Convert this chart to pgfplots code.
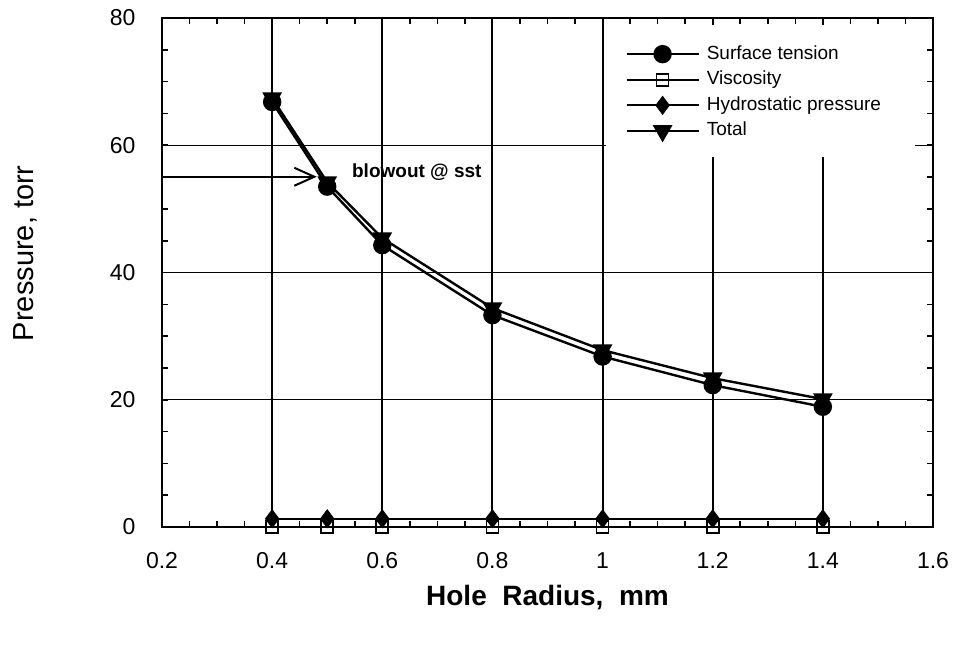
\documentclass[border=0pt]{standalone}
\usepackage{fontspec}
\setmainfont{Liberation Sans}
\usepackage{pgfplots}
\pgfplotsset{compat=1.18}
\usetikzlibrary{arrows.meta,calc}

\begin{document}
\begin{tikzpicture}
\begin{axis}[
    name=main,
    scale only axis,
    width=385.5pt, height=254.5pt,
    xmin=0.2, xmax=1.6,
    ymin=0, ymax=80,
    xtick={0.2,0.4,...,1.6},
    ytick={0,20,40,60,80},
    minor x tick num=3,
    minor y tick num=3,
    tick align=inside,
    tick pos=both,
    major tick length=3pt,
    minor tick length=3pt,
    every tick/.style={black, line width=0.8pt},
    axis line style={black, line width=1pt},
    grid=major,
    x grid style={black, line width=1pt},
    y grid style={black, line width=0.7pt},
    /pgf/number format/assume math mode=true,
    tick label style={font=\fontsize{11.5}{13}\selectfont},
    xticklabel style={anchor=base, yshift=-20.5pt},
    yticklabel style={anchor=east, xshift=-9.7pt},
    xlabel={Hole\ \ Radius,\ \ mm},
    ylabel={Pressure, torr},
    every axis x label/.style={at={(axis description cs:0.5,0)}, anchor=base,
        yshift=-39pt, font=\fontsize{14}{16}\selectfont\bfseries},
    every axis y label/.style={at={(axis description cs:0,0.538)}, rotate=90,
        anchor=center, yshift=68.5pt, font=\fontsize{14.5}{16}\selectfont},
    legend style={at={(axis cs:1.0407,75.8)}, anchor=north west,
        fill=none, draw=none, inner sep=0pt,
        font=\fontsize{9.5}{11}\selectfont,
        nodes={inner sep=0pt, text height=7pt, text depth=2pt},
        row sep=3.8pt, column sep=3.5pt},
    legend cell align=left,
    legend image code/.code={
        \draw[mark repeat=2, mark phase=2] plot coordinates {(0pt,0pt) (18pt,0pt) (36pt,0pt)};
    },
]
% white panel behind the legend
\fill[white] (axis cs:1.006,78.9) rectangle (axis cs:1.5673,58.15);

% Surface tension
\addplot[black, line width=1.2pt, mark=*, mark size=4pt, mark options={fill=black}] coordinates {
    (0.4,66.8) (0.5,53.5) (0.6,44.3) (0.8,33.3) (1.0,26.8) (1.2,22.3) (1.4,18.9)
};
\addlegendentry{Surface tension}

% Viscosity
\addplot[black, line width=1pt, mark=square, mark size=3pt, mark options={fill=white, line width=0.8pt}] coordinates {
    (0.4,0) (0.5,0) (0.6,0) (0.8,0) (1.0,0) (1.2,0) (1.4,0)
};
\addlegendentry{Viscosity}

% Hydrostatic pressure
\addplot[black, line width=1pt, mark=diamond*, mark size=4pt, mark options={fill=black}] coordinates {
    (0.4,1.3) (0.5,1.3) (0.6,1.3) (0.8,1.3) (1.0,1.3) (1.2,1.3) (1.4,1.3)
};
\addlegendentry{Hydrostatic pressure}

% Total
\addplot[black, line width=1.2pt, mark=triangle*, mark size=4.5pt, mark options={fill=black, rotate=180}] coordinates {
    (0.4,67.4) (0.5,54.2) (0.6,45.4) (0.8,34.4) (1.0,27.8) (1.2,23.4) (1.4,20.1)
};
\addlegendentry{Total}

% blowout annotation
\draw[line width=1pt, -{Straight Barb[length=10pt, width=9pt]}] (axis cs:0.2,55.05) -- (axis cs:0.481,55.05);
\node[anchor=west, inner sep=0pt, font=\fontsize{9.5}{11}\selectfont\bfseries] at (axis cs:0.5445,55.85) {blowout @ sst};
\end{axis}
\path (main.south west) ++(-81pt,-59pt) rectangle ($(main.south west)+(399.5pt,263.5pt)$);
\end{tikzpicture}
\end{document}
